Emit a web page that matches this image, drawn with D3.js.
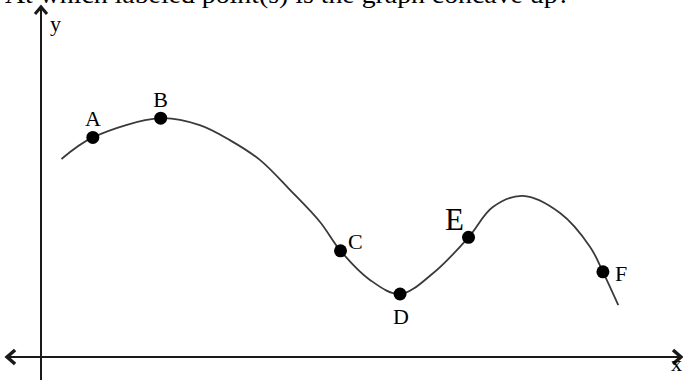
<!DOCTYPE html>
<html>
<head>
<meta charset="utf-8">
<script src="https://cdn.jsdelivr.net/npm/d3@7"></script>
<style>
  body { margin: 0; background: #fff; }
  svg { display: block; }
  text { font-family: "Liberation Serif", "DejaVu Serif", serif; fill: #000; }
</style>
</head>
<body>
<script>
// curve samples (x, y in graph units)
var curveX = [0.32, 0.81, 1.87, 2.48, 2.95, 3.42, 3.89, 4.36, 4.68, 5.14, 5.61, 6.13, 6.68, 7.06, 7.53, 8.11, 8.58, 8.78, 9.02];
var curveY = [6.6, 7.32, 7.96, 7.73, 7.23, 6.57, 5.57, 4.5, 3.54, 2.57, 2.1, 2.8, 3.99, 5.0, 5.37, 4.8, 3.67, 2.84, 1.73];

// labeled points
var labels = ["A", "B", "C", "D", "E", "F"];
var ptX = [0.81, 1.87, 4.68, 5.61, 6.68, 8.78];
var ptY = [7.32, 7.96, 3.54, 2.1, 3.99, 2.84];

var width = 683, height = 380;

var svg = d3.select("body").append("svg")
    .attr("width", width)
    .attr("height", height);

var x = d3.scaleLinear().domain([0, 10]).range([41, 681]);
var y = d3.scaleLinear().domain([0, 10]).range([357, 57]);

// question text, clipped at the top
svg.append("text")
    .attr("x", 5)
    .attr("y", 3)
    .attr("font-size", 25)
    .attr("textLength", 565)
    .attr("lengthAdjust", "spacingAndGlyphs")
    .text("At which labeled point(s) is the graph concave up?");

// axes
var axisColor = "#1a1a1a";
svg.append("line")
    .attr("x1", x(-0.53)).attr("x2", x(10.0))
    .attr("y1", y(0)).attr("y2", y(0))
    .attr("stroke", axisColor).attr("stroke-width", 2);
svg.append("line")
    .attr("x1", x(0)).attr("x2", x(0))
    .attr("y1", height).attr("y2", y(11.67))
    .attr("stroke", axisColor).attr("stroke-width", 2);

// arrow heads
var ax0 = x(-0.53), ax1 = x(10.0), ay = y(0), yx = x(0), yTop = y(11.67);
svg.append("path")
    .attr("d", "M" + (ax0 + 8) + "," + (ay - 7) + "L" + ax0 + "," + ay + "L" + (ax0 + 8) + "," + (ay + 7))
    .attr("fill", "none").attr("stroke", axisColor).attr("stroke-width", 3.5);
svg.append("path")
    .attr("d", "M" + (ax1 - 8) + "," + (ay - 7) + "L" + ax1 + "," + ay + "L" + (ax1 - 8) + "," + (ay + 7))
    .attr("fill", "none").attr("stroke", axisColor).attr("stroke-width", 3.5);
svg.append("path")
    .attr("d", "M" + (yx - 6) + "," + (yTop + 7) + "L" + yx + "," + yTop + "L" + (yx + 6) + "," + (yTop + 7))
    .attr("fill", "none").attr("stroke", axisColor).attr("stroke-width", 3);

svg.append("text").attr("x", yx + 9).attr("y", 31).attr("font-size", 22).text("y");
svg.append("text").attr("x", ax1 - 10).attr("y", 371).attr("font-size", 22).text("x");

// the curve
var line = d3.line()
    .x(function(d) { return x(d[0]); })
    .y(function(d) { return y(d[1]); })
    .curve(d3.curveCatmullRom.alpha(0.5));

svg.append("path")
    .datum(curveX.map(function(v, i) { return [v, curveY[i]]; }))
    .attr("d", line)
    .attr("fill", "none")
    .attr("stroke", "#3a3a3a")
    .attr("stroke-width", 1.8);

// points + labels
var pts = labels.map(function(l, i) { return {label: l, x: ptX[i], y: ptY[i]}; });
var off = {
  A: {dx: 0, dy: -11, anchor: "middle", size: 22},
  B: {dx: 0, dy: -11, anchor: "middle", size: 22},
  C: {dx: 7.5, dy: -1.5, anchor: "start", size: 22},
  D: {dx: 1, dy: 30, anchor: "middle", size: 22},
  E: {dx: -14, dy: -7, anchor: "middle", size: 31},
  F: {dx: 12, dy: 9, anchor: "start", size: 22}
};

svg.selectAll(".pt")
    .data(pts)
  .enter().append("circle")
    .attr("class", "pt")
    .attr("cx", function(d) { return x(d.x); })
    .attr("cy", function(d) { return y(d.y); })
    .attr("r", 6.5)
    .attr("fill", "#000");

svg.selectAll(".lbl")
    .data(pts)
  .enter().append("text")
    .attr("class", "lbl")
    .attr("x", function(d) { return x(d.x) + off[d.label].dx; })
    .attr("y", function(d) { return y(d.y) + off[d.label].dy; })
    .attr("text-anchor", function(d) { return off[d.label].anchor; })
    .attr("font-size", function(d) { return off[d.label].size; })
    .text(function(d) { return d.label; });
</script>
</body>
</html>
